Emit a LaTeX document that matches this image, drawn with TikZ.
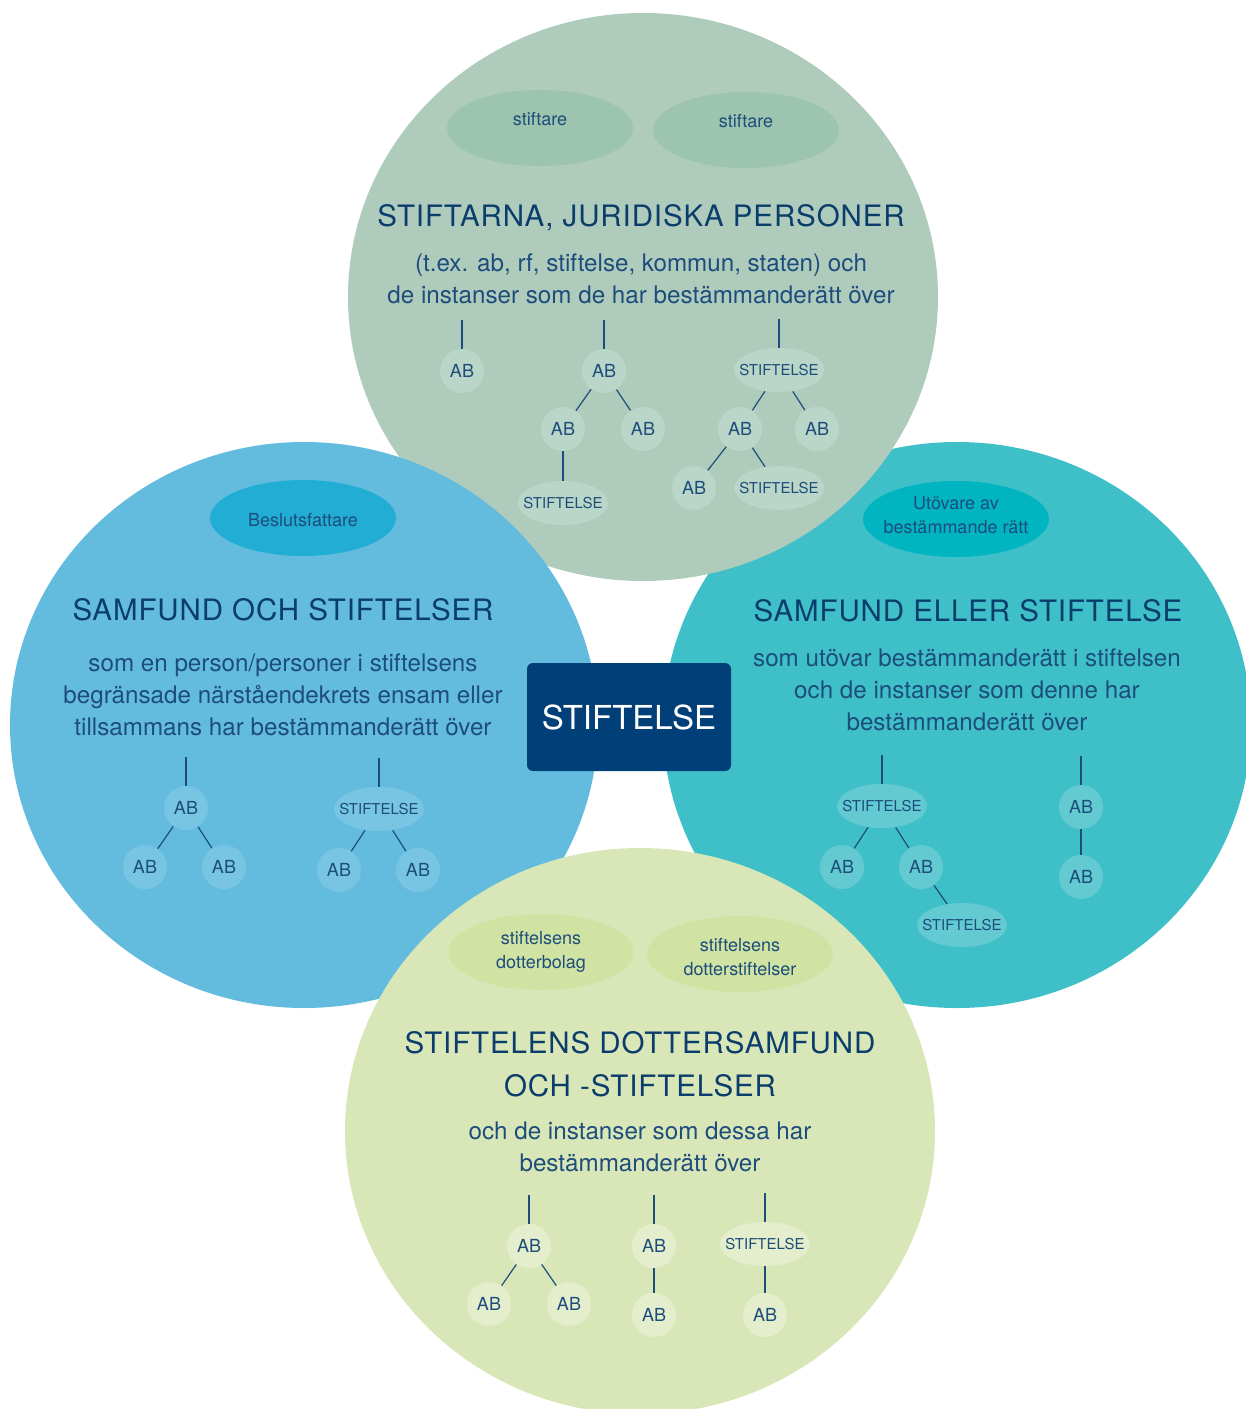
\documentclass[tikz,border=0pt]{standalone}
\usepackage{fontspec}
\setmainfont{TeX Gyre Heros}
\newfontfamily\headfont[LetterSpace=3]{TeX Gyre Heros}
\usetikzlibrary{shapes.geometric}

\definecolor{txtblue}{HTML}{1D4D7B}
\definecolor{headblue}{HTML}{0B3D6C}
\definecolor{boxblue}{HTML}{003F77}
\definecolor{topbg}{HTML}{AFCBBC}
\definecolor{toptag}{HTML}{9CC4AE}
\definecolor{topnode}{HTML}{BAD6C8}
\definecolor{leftbg}{HTML}{63BCDE}
\definecolor{lefttag}{HTML}{22ADD5}
\definecolor{leftnode}{HTML}{78C5E3}
\definecolor{rightbg}{HTML}{3FC0C8}
\definecolor{righttag}{HTML}{00B5C0}
\definecolor{rightnode}{HTML}{63CAD1}
\definecolor{botbg}{HTML}{D9E7B8}
\definecolor{bottag}{HTML}{D0E3A3}
\definecolor{botnode}{HTML}{E4EECC}

\newcommand\stf{\makebox[0pt]{STIFTELSE}}

\tikzset{
	ab/.style={circle, inner sep=0pt, minimum size=22pt, text=txtblue,
		font=\fontsize{9}{10}\selectfont},
	stnode/.style={ellipse, inner sep=0pt, minimum width=45pt, minimum height=22pt,
		text=txtblue, font=\fontsize{7.5}{9}\selectfont},
	tag/.style={ellipse, inner sep=0pt, minimum width=93pt, minimum height=38pt},
	tagtext/.style={text=txtblue, align=center, font=\fontsize{9}{12}\selectfont},
	head/.style={text=headblue, align=center, font=\headfont\fontsize{14.75}{21.5}\selectfont},
	body/.style={text=txtblue, align=center, font=\fontsize{12.1}{16}\selectfont},
	link/.style={draw=txtblue, line width=0.6pt},
}

\begin{document}
\begin{tikzpicture}[x=0.5pt, y=-0.5pt]
	\clip (0,0) rectangle (1246,1409);

	% right circle
	\begin{scope}[ab/.append style={fill=rightnode}, stnode/.append style={fill=rightnode}]
		\fill[rightbg] (957,725) ellipse [x radius=147pt, y radius=141.5pt];
		\node[tag, fill=righttag, label={[tagtext, yshift=2pt]center:Utövare av\\bestämmande rätt}] (rtag) at (956,519) {};
		\node[head] (rhead) at (968,611) {SAMFUND ELLER STIFTELSE};
		\node[body] (rbody) at (967,690) {som utövar bestämmanderätt i stiftelsen\\och de instanser som denne har\\bestämmanderätt över};
		\node[stnode] (r1) at (882,806) {\stf};
		\node[ab] (r1a) at (842,867) {AB};
		\node[ab] (r1b) at (921,867) {AB};
		\node[stnode] (r1c) at (962,925) {\stf};
		\node[ab] (r2) at (1081,807) {AB};
		\node[ab] (r2a) at (1081,877) {AB};
		\draw[link] (r1) -- (r1a);
		\draw[link] (r1) -- (r1b);
		\draw[link] (r1b) -- (r1c);
		\draw[link] (r2) -- (r2a);
	\end{scope}

	% top circle
	\begin{scope}[ab/.append style={fill=topnode}, stnode/.append style={fill=topnode}]
		\fill[topbg] (643,297) ellipse [x radius=147.5pt, y radius=142pt];
		\node[tag, fill=toptag, label={[tagtext, yshift=4.5pt]center:stiftare}] (ttag1) at (540,128) {};
		\node[tag, fill=toptag, label={[tagtext, yshift=4.5pt]center:stiftare}] (ttag2) at (746,130) {};
		\node[head] (thead) at (641,218) {STIFTARNA, JURIDISKA PERSONER};
		\node[body] (tbody) at (641,279) {(t.ex. ab, rf, stiftelse, kommun, staten) och\\de instanser som de har bestämmanderätt över};
		\node[ab] (t1) at (462,371) {AB};
		\node[ab] (t2) at (604,371) {AB};
		\node[ab] (t2a) at (563,429) {AB};
		\node[ab] (t2b) at (643,429) {AB};
		\node[stnode] (t2c) at (563,503) {\stf};
		\node[stnode] (t3) at (779,370) {\stf};
		\node[ab] (t3a) at (740,429) {AB};
		\node[ab] (t3b) at (817,429) {AB};
		\node[ab] (t3c) at (694,488) {AB};
		\node[stnode] (t3d) at (779,488) {\stf};
		\draw[link] (t2) -- (t2a);
		\draw[link] (t2) -- (t2b);
		\draw[link] (t2a) -- (t2c);
		\draw[link] (t3) -- (t3a);
		\draw[link] (t3) -- (t3b);
		\draw[link] (t3a) -- (t3c);
		\draw[link] (t3a) -- (t3d);
	\end{scope}

	% left circle
	\begin{scope}[ab/.append style={fill=leftnode}, stnode/.append style={fill=leftnode}]
		\fill[leftbg] (304,725) ellipse [x radius=147pt, y radius=141.5pt];
		\node[tag, fill=lefttag, label={[tagtext, yshift=-1pt]center:Beslutsfattare}] (ltag) at (303,518) {};
		\node[head] (lhead) at (283,610) {SAMFUND OCH STIFTELSER};
		\node[body] (lbody) at (283,695) {som en person/personer i stiftelsens\\begränsade närståendekrets ensam eller\\tillsammans har bestämmanderätt över};
		\node[ab] (l1) at (186,808) {AB};
		\node[ab] (l1a) at (145,867) {AB};
		\node[ab] (l1b) at (224,867) {AB};
		\node[stnode] (l2) at (379,809) {\stf};
		\node[ab] (l2a) at (339,870) {AB};
		\node[ab] (l2b) at (418,870) {AB};
		\draw[link] (l1) -- (l1a);
		\draw[link] (l1) -- (l1b);
		\draw[link] (l2) -- (l2a);
		\draw[link] (l2) -- (l2b);
	\end{scope}

	% bottom circle
	\begin{scope}[ab/.append style={fill=botnode}, stnode/.append style={fill=botnode}]
		\fill[botbg] (640,1131) ellipse [x radius=147.5pt, y radius=141.5pt];
		\node[tag, fill=bottag, label={[tagtext]center:stiftelsens\\dotterbolag}] (btag1) at (541,952) {};
		\node[tag, fill=bottag, label={[tagtext, yshift=-1.5pt]center:stiftelsens\\dotterstiftelser}] (btag2) at (740,954) {};
		\node[head] (bhead) at (640,1064.5) {STIFTELENS DOTTERSAMFUND\\OCH -STIFTELSER};
		\node[body] (bbody) at (640,1147) {och de instanser som dessa har\\bestämmanderätt över};
		\node[ab] (u1) at (529,1246) {AB};
		\node[ab] (u1a) at (489,1304) {AB};
		\node[ab] (u1b) at (569,1304) {AB};
		\node[ab] (u2) at (654,1246) {AB};
		\node[ab] (u2a) at (654,1315) {AB};
		\node[stnode] (u3) at (765,1244) {\stf};
		\node[ab] (u3a) at (765,1315) {AB};
		\draw[link] (u1) -- (u1a);
		\draw[link] (u1) -- (u1b);
		\draw[link] (u2) -- (u2a);
		\draw[link] (u3) -- (u3a);
	\end{scope}

	% stubs above the tree roots
	\foreach \n in {t1,t2,t3,l1,l2,r1,r2,u1,u2,u3}
		\draw[link] (\n.north) -- ++(0,-29);

	% centre box
	\node[fill=boxblue, rounded corners=3pt, minimum width=102pt, minimum height=54pt,
		text=white, font=\fontsize{16.5}{18}\selectfont] (main) at (629,717) {STIFTELSE};
\end{tikzpicture}
\end{document}
